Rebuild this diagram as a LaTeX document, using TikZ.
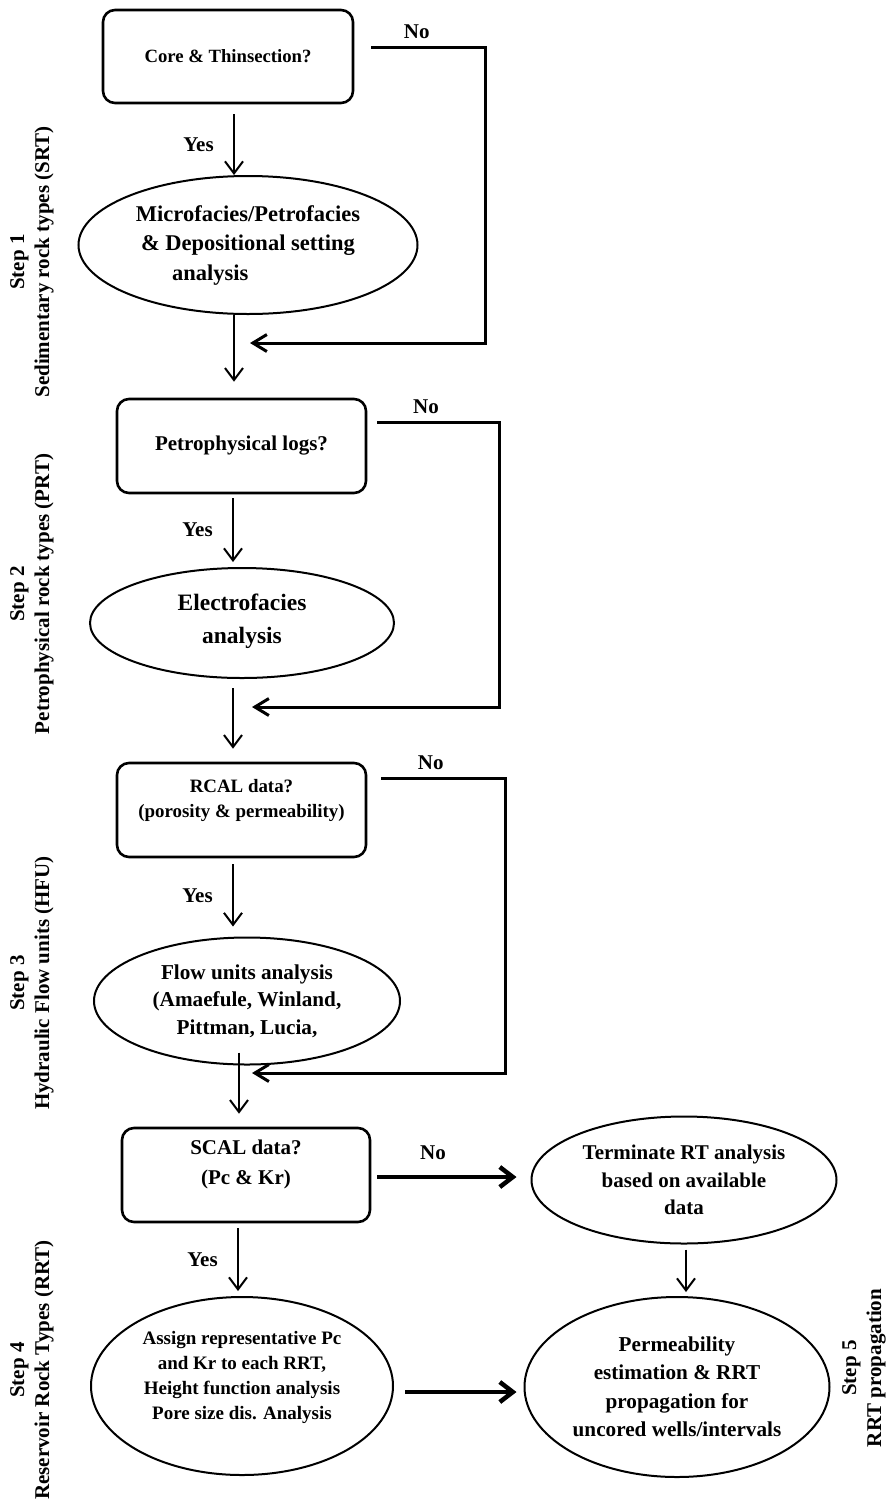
\documentclass[tikz,border=0pt]{standalone}
\usepackage{fontspec}
\setmainfont{Liberation Serif}
\usetikzlibrary{arrows.meta,shapes.geometric}

\begin{document}
\begin{tikzpicture}[x=1pt,y=-1pt,
  qbox/.style={draw,line width=2.6pt,rounded corners=12pt,minimum width=249pt,minimum height=94pt,align=center,inner sep=0pt},
  oval/.style={draw,ellipse,line width=2pt,inner sep=0pt,align=center},
  arr/.style={line width=2pt,-{Straight Barb[length=12pt,width=18pt]}},
  noarr/.style={line width=3pt,-{Straight Barb[length=14pt,width=17pt]}},
  fatarr/.style={line width=4.5pt,-{Straight Barb[length=13pt,width=20pt]}},
  ans/.style={font=\fontsize{21}{25}\selectfont\bfseries},
  steplab/.style={rotate=90,align=center,font=\fontsize{21}{25}\selectfont\bfseries}]
\useasboundingbox (0,0) rectangle (888,1508);

% questions and analyses
\node[qbox,minimum width=250pt,minimum height=93pt,font=\fontsize{18.7}{24}\selectfont\bfseries] (core) at (228,56.5) {Core \& Thinsection?};
\node[oval,minimum width=339pt,minimum height=138pt,font=\fontsize{22.5}{29.5}\selectfont\bfseries] (micro) at (248,245) {Microfacies/Petrofacies\\\& Depositional setting\\\makebox[152pt][l]{analysis}};
\node[qbox,font=\fontsize{21}{26}\selectfont\bfseries] (logs) at (241.5,446) {Petrophysical logs?};
\node[oval,minimum width=304pt,minimum height=110pt,font=\fontsize{23.5}{33}\selectfont\bfseries] (electro) at (242,623) {Electrofacies\\analysis\\[-24pt]};
\node[qbox,font=\fontsize{18.9}{25}\selectfont\bfseries] (rcal) at (241.5,810) {RCAL data?\\(porosity \& permeability)\\[-10pt]\strut};
\node[oval,minimum width=306pt,minimum height=127pt,font=\fontsize{21.2}{27.5}\selectfont\bfseries] (flow) at (247,1001) {Flow units analysis\\(Amaefule, Winland,\\Pittman, Lucia,};
\node[qbox,minimum width=248pt,font=\fontsize{21}{30}\selectfont\bfseries] (scal) at (246,1175) {SCAL data?\\(Pc \& Kr)\\[-14pt]\strut};
\node[oval,minimum width=305pt,minimum height=127pt,font=\fontsize{21}{27.5}\selectfont\bfseries] (term) at (684,1180) {Terminate RT analysis\\based on available\\data};
\node[oval,minimum width=302pt,minimum height=178pt,font=\fontsize{19}{25}\selectfont\bfseries] (assign) at (242,1386) {Assign representative Pc\\and Kr to each RRT,\\Height function analysis\\Pore size dis. Analysis\\[-3pt]};
\node[oval,minimum width=305pt,minimum height=180pt,font=\fontsize{21.2}{28.5}\selectfont\bfseries] (perm) at (677,1387) {Permeability\\estimation \& RRT\\propagation for\\uncored wells/intervals};

% step labels
\node[steplab] (s1) at (32,262) {Step 1\\Sedimentary rock types (SRT)};
\node[steplab] (s2) at (32,594) {Step 2\\Petrophysical rock types (PRT)};
\node[steplab] (s3) at (32,983) {Step 3\\Hydraulic Flow units (HFU)};
\node[steplab] (s4) at (32,1370) {Step 4\\Reservoir Rock Types (RRT)};
\node[steplab] (s5) at (864,1368) {Step 5\\RRT propagation};

% loop ends
\coordinate (r1) at (485,343);
\coordinate (j1) at (250,343);
\coordinate (r2) at (499,707);
\coordinate (j2) at (252,707);
\coordinate (r3) at (505,1073);
\coordinate (j3) at (252,1073);

% connectors
\draw[arr] ([xshift=6pt,yshift=-10pt]core.south) -- node[ans,anchor=east,xshift=-16pt]{Yes} ([xshift=6pt]core.south |- micro.north);
\draw[arr] ([xshift=-14pt]micro.south) -- ([xshift=-7.5pt,yshift=16pt]logs.north);
\draw[noarr] ([xshift=17pt,yshift=9.5pt]core.east) -| node[ans,pos=0.2,above=3pt]{No} (r1) -- (j1);

\draw[arr] ([xshift=-8.5pt,yshift=-4pt]logs.south) -- node[ans,anchor=east,xshift=-16pt]{Yes} ([xshift=-9pt,yshift=5pt]electro.north);
\draw[arr] ([xshift=-9pt,yshift=-9pt]electro.south) -- ([xshift=-8.5pt,yshift=13pt]rcal.north);
\draw[noarr] ([xshift=10pt,yshift=24pt]logs.east) -| node[ans,pos=0.2,above=3pt]{No} (r2) -- (j2);

\draw[arr] ([xshift=-8.5pt,yshift=-6pt]rcal.south) -- node[ans,anchor=east,xshift=-16pt]{Yes} ([xshift=-14pt,yshift=10pt]flow.north);
\draw[arr] ([xshift=-8pt,yshift=13pt]flow.south) -- ([xshift=-7pt,yshift=13pt]scal.north);
\draw[noarr] ([xshift=14pt,yshift=32pt]rcal.east) -| node[ans,pos=0.2,above=3pt]{No} (r3) -- (j3);

\draw[fatarr] ([xshift=6pt,yshift=-2pt]scal.east) -- node[ans,pos=0.4,above=12pt]{No} ([xshift=-14pt,yshift=3pt]term.west);
\draw[arr] ([xshift=-8pt,yshift=-5pt]scal.south) -- node[ans,anchor=east,xshift=-16pt]{Yes} ([xshift=-4pt,yshift=5pt]assign.north);
\draw[arr] ([xshift=2pt,yshift=-5pt]term.south) -- ([xshift=9pt,yshift=4pt]perm.north);
\draw[fatarr] ([xshift=11pt,yshift=-6pt]assign.east) -- ([xshift=-7pt,yshift=-5pt]perm.west);
\end{tikzpicture}
\end{document}
